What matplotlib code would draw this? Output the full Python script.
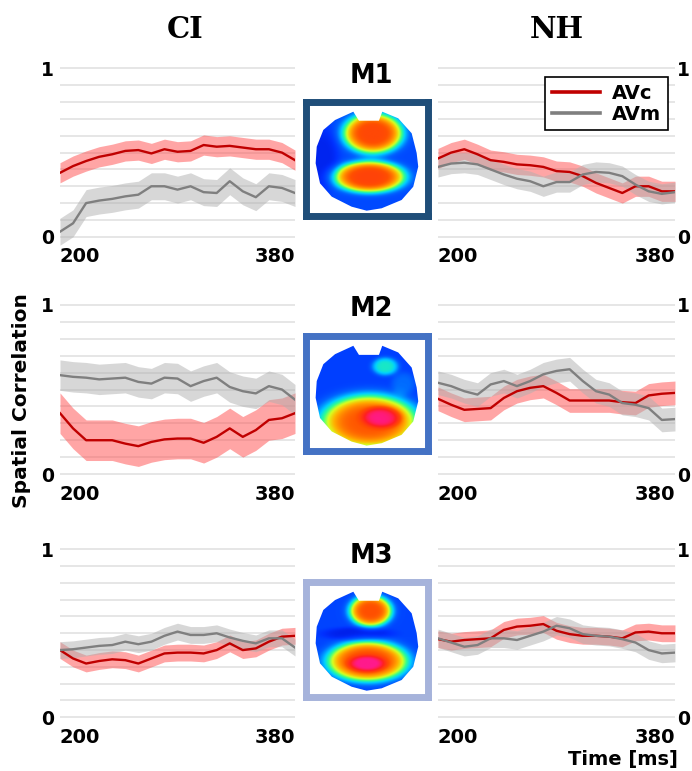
import numpy as np
import matplotlib
matplotlib.use("Agg")
import matplotlib.pyplot as plt
from matplotlib.colors import LinearSegmentedColormap
from matplotlib.patches import Polygon

# time samples (ms)
times = [200, 210, 220, 230, 240, 250, 260, 270, 280, 290,
         300, 310, 320, 330, 340, 350, 360, 370, 380]

# spatial correlation per map / group, AVc and AVm
ci_m1_avc = [0.38, 0.42, 0.45, 0.475, 0.49, 0.51, 0.515, 0.495, 0.52, 0.505,
             0.51, 0.545, 0.535, 0.54, 0.53, 0.52, 0.52, 0.50, 0.455]
ci_m1_avm = [0.03, 0.08, 0.20, 0.215, 0.225, 0.24, 0.25, 0.30, 0.30, 0.28,
             0.30, 0.265, 0.26, 0.33, 0.27, 0.235, 0.30, 0.29, 0.26]
nh_m1_avc = [0.465, 0.50, 0.52, 0.49, 0.455, 0.445, 0.43, 0.425, 0.415, 0.39,
             0.385, 0.36, 0.32, 0.29, 0.26, 0.30, 0.30, 0.27, 0.27]
nh_m1_avm = [0.415, 0.435, 0.44, 0.43, 0.40, 0.37, 0.345, 0.33, 0.30, 0.325,
             0.325, 0.37, 0.385, 0.38, 0.36, 0.31, 0.27, 0.255, 0.265]

ci_m2_avc = [0.36, 0.27, 0.20, 0.20, 0.20, 0.18, 0.165, 0.19, 0.205, 0.21,
             0.21, 0.185, 0.22, 0.27, 0.22, 0.26, 0.32, 0.33, 0.36]
ci_m2_avm = [0.585, 0.575, 0.57, 0.56, 0.565, 0.57, 0.545, 0.535, 0.57, 0.565,
             0.52, 0.55, 0.57, 0.515, 0.49, 0.477, 0.52, 0.50, 0.44]
nh_m2_avc = [0.445, 0.41, 0.38, 0.385, 0.39, 0.45, 0.49, 0.51, 0.52, 0.48,
             0.435, 0.435, 0.435, 0.435, 0.425, 0.42, 0.465, 0.475, 0.48]
nh_m2_avm = [0.54, 0.52, 0.49, 0.47, 0.53, 0.55, 0.52, 0.55, 0.59, 0.61,
             0.62, 0.55, 0.49, 0.47, 0.42, 0.41, 0.39, 0.32, 0.325]

ci_m3_avc = [0.40, 0.35, 0.32, 0.335, 0.345, 0.34, 0.32, 0.35, 0.38, 0.385,
             0.385, 0.38, 0.40, 0.44, 0.40, 0.41, 0.45, 0.48, 0.485]
ci_m3_avm = [0.40, 0.405, 0.415, 0.425, 0.43, 0.45, 0.435, 0.45, 0.485, 0.51,
             0.49, 0.49, 0.50, 0.475, 0.455, 0.44, 0.47, 0.47, 0.415]
nh_m3_avc = [0.465, 0.45, 0.46, 0.465, 0.47, 0.52, 0.54, 0.545, 0.555, 0.515,
             0.495, 0.485, 0.485, 0.48, 0.47, 0.505, 0.51, 0.50, 0.50]
nh_m3_avm = [0.47, 0.445, 0.42, 0.43, 0.47, 0.47, 0.46, 0.485, 0.51, 0.545,
             0.53, 0.495, 0.485, 0.48, 0.465, 0.445, 0.40, 0.38, 0.385]

# half width of the shaded error bands (AVc, AVm)
ci_spread = [(0.06, 0.08), (0.12, 0.09), (0.05, 0.05)]
nh_spread = [(0.06, 0.06), (0.07, 0.07), (0.05, 0.055)]

map_names = ["M1", "M2", "M3"]
map_edges = ["#1f4e79", "#4472c4", "#a6b3db"]

# topography blobs: (u, v, su, sv, amplitude)
map_base = [0.17, 0.15, 0.16]
map_blobs = [
    [(0.55, 0.72, 0.25, 0.18, 0.63), (0.52, 0.34, 0.30, 0.14, 0.64),
     (0.12, 0.50, 0.15, 0.30, -0.08)],
    [(0.52, 0.25, 0.41, 0.24, 0.62), (0.62, 0.29, 0.16, 0.09, 0.22),
     (0.65, 0.73, 0.11, 0.08, 0.25), (0.80, 0.58, 0.10, 0.10, 0.08)],
    [(0.53, 0.75, 0.18, 0.14, 0.62), (0.505, 0.31, 0.34, 0.18, 0.63),
     (0.50, 0.29, 0.15, 0.07, 0.22), (0.42, 0.55, 0.30, 0.06, -0.08)],
]

head = [(0.384, 0.919), (0.430, 0.840), (0.594, 0.840), (0.621, 0.919),
        (0.752, 0.861), (0.862, 0.730), (0.903, 0.557), (0.916, 0.437),
        (0.875, 0.261), (0.780, 0.145), (0.616, 0.072), (0.493, 0.051),
        (0.370, 0.086), (0.207, 0.174), (0.111, 0.291), (0.075, 0.467),
        (0.084, 0.612), (0.138, 0.759), (0.234, 0.846)]

RED = "#c00000"
RED_BAND = "#ff4d4d"
GRAY = "#7f7f7f"
GRAY_BAND = "#b0b0b0"

topo_cmap = LinearSegmentedColormap.from_list("topo", [
    (0.0, "#0000c0"), (0.12, "#0030ff"), (0.22, "#0064ff"),
    (0.35, "#00d0ff"), (0.45, "#30ff90"), (0.55, "#d8ff20"),
    (0.65, "#ffb000"), (0.78, "#ff5000"), (0.9, "#ff2020"),
    (1.0, "#ff1a8c")])

fig = plt.figure(figsize=(6.92, 7.71), dpi=100)

col_x = [(0.0867, 0.3396), (0.6329, 0.3425)]
rows = [(0.682, 0.2336), (0.3742, 0.2346), (0.0588, 0.2331)]
topo_rows = [(0.7192, 0.1479), (0.4144, 0.1492), (0.0966, 0.1479)]
label_y = [1 - 76 / 771, 1 - 309 / 771, 1 - 556 / 771]

ci_data = [(ci_m1_avc, ci_m1_avm), (ci_m2_avc, ci_m2_avm), (ci_m3_avc, ci_m3_avm)]
nh_data = [(nh_m1_avc, nh_m1_avm), (nh_m2_avc, nh_m2_avm), (nh_m3_avc, nh_m3_avm)]

t = np.array(times)


def draw_panel(ax, avc, avm, spread, right=False):
    avc = np.array(avc)
    avm = np.array(avm)
    ax.fill_between(t, avc - spread[0], avc + spread[0], color=RED_BAND,
                    alpha=0.5, lw=0, zorder=2)
    ax.fill_between(t, avm - spread[1], avm + spread[1], color=GRAY_BAND,
                    alpha=0.5, lw=0, zorder=2)
    ax.plot(t, avc, color=RED, lw=1.7, zorder=3, label="AVc")
    ax.plot(t, avm, color=GRAY, lw=1.7, zorder=3, label="AVm")
    ax.set_xlim(200, 380)
    ax.set_ylim(-0.05, 1.02)
    ax.set_yticks([0, 1])
    ax.set_yticks(np.arange(0.1, 0.95, 0.1), minor=True)
    ax.grid(True, which="both", axis="y", color="#e2e2e2", lw=1.2, zorder=0)
    ax.set_xticks([200, 380])
    for s in ax.spines.values():
        s.set_visible(False)
    ax.tick_params(which="both", length=0)
    ax.tick_params(axis="x", pad=1.5, labelsize=14)
    ax.tick_params(axis="y", labelsize=13.5, pad=4.5)
    if right:
        ax.yaxis.tick_right()
        ax.tick_params(axis="y", pad=1.5)
    labels = ax.get_xticklabels()
    labels[0].set_ha("left")
    labels[1].set_ha("right")
    for lab in ax.get_xticklabels() + ax.get_yticklabels():
        lab.set_fontweight("bold")


axes = []
for r in range(3):
    b, h = rows[r]
    ax_l = fig.add_axes([col_x[0][0], b, col_x[0][1], h])
    draw_panel(ax_l, ci_data[r][0], ci_data[r][1], ci_spread[r])
    ax_r = fig.add_axes([col_x[1][0], b, col_x[1][1], h])
    draw_panel(ax_r, nh_data[r][0], nh_data[r][1], nh_spread[r], right=True)
    axes.append((ax_l, ax_r))

leg = axes[0][1].legend(loc="upper right", bbox_to_anchor=(0.97, 0.935),
                        borderaxespad=0, fancybox=False, framealpha=1,
                        edgecolor="black", handlelength=2.5, handletextpad=0.6,
                        borderpad=0.35, labelspacing=0.1,
                        prop={"weight": "bold", "size": 14})
leg.get_frame().set_linewidth(1.2)
for line in leg.get_lines():
    line.set_linewidth(2.6)

# topographic maps
uu, vv = np.meshgrid(np.linspace(0, 1, 240), np.linspace(0, 1, 240))
for r in range(3):
    b, h = topo_rows[r]
    tax = fig.add_axes([0.4429, b, 0.1763, h])
    field = np.full_like(uu, map_base[r])
    for cu, cv, su, sv, amp in map_blobs[r]:
        d2 = ((uu - cu) / su) ** 2 + ((vv - cv) / sv) ** 2
        field += amp * np.exp(-d2 ** 2.2)
    img = tax.imshow(np.clip(field, 0, 1), origin="lower", extent=[0, 1, 0, 1],
                     cmap=topo_cmap, vmin=0, vmax=1, interpolation="bilinear",
                     aspect="auto")
    outline = Polygon(head, closed=True, transform=tax.transData,
                      facecolor="none", edgecolor="none")
    tax.add_patch(outline)
    img.set_clip_path(outline)
    tax.set_xlim(0, 1)
    tax.set_ylim(0, 1)
    tax.set_xticks([])
    tax.set_yticks([])
    for s in tax.spines.values():
        s.set_color(map_edges[r])
        s.set_linewidth(5)
    fig.text(371 / 692, label_y[r], map_names[r], ha="center", va="center",
             fontsize=18.5, fontweight="bold")

fig.text(185 / 692, 1 - 29 / 771, "CI", ha="center", va="center",
         fontsize=21, fontweight="bold", family="DejaVu Serif")
fig.text(557 / 692, 1 - 29 / 771, "NH", ha="center", va="center",
         fontsize=21, fontweight="bold", family="DejaVu Serif")
fig.text(22 / 692, 1 - 401 / 771, "Spatial Correlation", rotation=90,
         ha="center", va="center", fontsize=14.5, fontweight="bold")
fig.text(678 / 692, 1 - 759 / 771, "Time [ms]", ha="right", va="center",
         fontsize=14, fontweight="bold")

fig.savefig("out.png", dpi=100)
